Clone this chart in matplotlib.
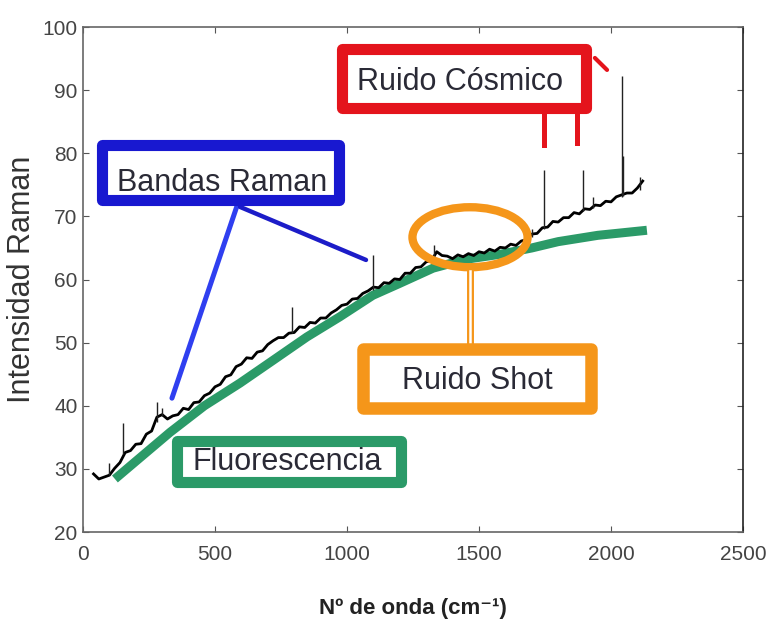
import matplotlib.pyplot as plt
import numpy as np
from matplotlib.patches import Rectangle, Ellipse

# spectrum (wavenumber, intensity)
wavenumber = [40, 60, 80, 100, 120, 140, 160, 180, 200, 220, 240, 260, 280, 300,
              320, 340, 360, 380, 400, 420, 440, 460, 480, 500, 520, 540, 560, 580,
              600, 620, 640, 660, 680, 700, 720, 740, 760, 780, 800, 820, 840, 860,
              880, 900, 920, 940, 960, 980, 1000, 1020, 1040, 1060, 1080, 1100, 1120,
              1140, 1160, 1180, 1200, 1220, 1240, 1260, 1280, 1300, 1320, 1340, 1360,
              1380, 1400, 1420, 1440, 1460, 1480, 1500, 1520, 1540, 1560, 1580, 1600,
              1620, 1640, 1660, 1680, 1700, 1720, 1740, 1760, 1780, 1800, 1820, 1840,
              1860, 1880, 1900, 1920, 1940, 1960, 1980, 2000, 2020, 2040, 2060, 2080,
              2100, 2120]
intensity = [29.2, 28.4, 28.7, 29.0, 30.1, 31.0, 32.6, 32.9, 33.9, 34.0, 35.5, 36.0,
             38.2, 38.6, 37.9, 38.4, 38.6, 39.6, 39.4, 40.5, 40.6, 41.6, 42.0, 43.0,
             43.4, 44.6, 44.9, 46.2, 46.6, 47.6, 47.5, 48.5, 48.7, 49.7, 50.3, 50.8,
             50.8, 51.5, 51.6, 52.5, 52.4, 53.2, 53.1, 53.9, 53.9, 54.7, 55.2, 55.9,
             56.1, 56.9, 57.0, 57.8, 58.2, 58.8, 58.7, 59.5, 59.4, 60.1, 60.0, 61.0,
             61.0, 61.9, 62.0, 62.8, 63.0, 64.4, 63.8, 63.7, 63.3, 63.9, 63.6, 64.1,
             63.8, 64.4, 64.2, 64.8, 64.5, 65.1, 65.0, 65.6, 65.4, 66.1, 66.3, 67.2,
             67.3, 68.2, 68.3, 69.2, 69.1, 69.8, 69.8, 70.6, 70.4, 71.2, 71.1, 71.8,
             71.7, 72.4, 72.3, 73.1, 73.4, 73.7, 73.7, 74.5, 75.6]

# narrow peaks / cosmic spikes (position, base, top)
spike_x = [97, 152, 280, 300, 792, 1100, 1330, 1700, 1748, 1895, 1932, 2040, 2046, 2110]
spike_base = [29.0, 32.3, 37.5, 38.3, 51.5, 58.4, 63.0, 66.8, 68.0, 70.8, 71.3, 73.0, 73.3, 74.2]
spike_top = [31.0, 37.3, 40.6, 39.6, 55.6, 63.9, 65.5, 68.0, 77.3, 77.3, 73.0, 92.3, 79.5, 76.3]

# fluorescence background
fluo_x = [121, 200, 330, 460, 595, 720, 848, 973, 1098, 1200, 1326, 1450, 1580, 1700,
          1800, 1950, 2136]
fluo_y = [28.4, 31.2, 35.8, 40.0, 43.6, 47.2, 50.9, 54.1, 57.5, 59.4, 61.8, 63.2, 64.0,
          65.0, 66.0, 67.0, 67.8]

blue = "#1818d0"
red = "#e4141c"
orange = "#f5961a"
green = "#2b9a68"
txt = "#2a2a36"

plt.rcParams['font.family'] = ['Liberation Sans', 'DejaVu Sans']

fig = plt.figure(figsize=(7.69, 6.21), dpi=100)
ax = fig.add_axes([0.1079, 0.1433, 0.8583, 0.8132])

ax.plot(fluo_x, fluo_y, color=green, lw=6.5, solid_capstyle='butt', zorder=2)
ax.plot(wavenumber, intensity, color="black", lw=2.0, zorder=3)
ax.vlines(spike_x, spike_base, spike_top, color="#222222", lw=1.0, zorder=3)

ax.set_xlim(0, 2500)
ax.set_ylim(20, 100)
ax.set_xticks([0, 500, 1000, 1500, 2000, 2500])
ax.set_yticks(range(20, 101, 10))
ax.tick_params(direction="in", length=4, top=True, right=True, labelsize=15,
               colors="#555555", labelcolor="#444444")
ax.tick_params(axis="x", pad=9)
ax.tick_params(axis="y", pad=4)
for s in ax.spines.values():
    s.set_color("#666666")
    s.set_linewidth(1.2)
ax.spines["right"].set_color("#222222")

ax.set_ylabel("Intensidad Raman", fontsize=22, color="#333333", labelpad=4)
ax.set_xlabel("Nº de onda (cm⁻¹)", fontsize=16, fontweight="bold", color="#222222",
              labelpad=25)


def box(x0, x1, y0, y1, color, lw=8):
    r = Rectangle((x0, y0), x1 - x0, y1 - y0, facecolor="white", edgecolor=color,
                  lw=lw, joinstyle="round", zorder=6, clip_on=False)
    ax.add_patch(r)


# Bandas Raman
ax.plot([587, 337], [72.1, 41.2], color="#2f3ff0", lw=3.6, zorder=5, solid_capstyle='round')
ax.plot([595, 1072], [71.5, 63.1], color="#1c1cc8", lw=3.2, zorder=5, solid_capstyle='round')
box(72, 970, 72.6, 81.3, blue)
ax.text(527, 75.3, "Bandas Raman", fontsize=22, color=txt, ha="center", va="center", zorder=7)

# Ruido Cósmico
ax.plot([1746, 1746], [86.4, 81.3], color=red, lw=3.6, zorder=5)
ax.plot([1871, 1871], [86.4, 81.6], color=red, lw=3.6, zorder=5)
ax.plot([1939, 1985], [95.1, 93.2], color=red, lw=3, zorder=5, solid_capstyle='round')
box(981, 1905, 87.2, 96.5, red)
ax.text(1428, 91.3, "Ruido Cósmico", fontsize=22, color=txt, ha="center", va="center", zorder=7)

# Ruido Shot
ax.add_patch(Ellipse((1466, 66.7), 436, 9.5, fill=False, edgecolor=orange, lw=6, zorder=5))
ax.plot([1466, 1466], [61.8, 49.9], color=orange, lw=5, zorder=5)
ax.plot([1466, 1466], [61.3, 49.9], color="white", lw=1.8, zorder=5)
box(1061, 1924, 39.6, 49.0, orange, lw=9)
ax.text(1492, 43.9, "Ruido Shot", fontsize=22, color=txt, ha="center", va="center", zorder=7)

# Fluorescencia
box(356, 1205, 27.9, 34.4, green)
ax.text(773, 31.1, "Fluorescencia", fontsize=22, color=txt, ha="center", va="center", zorder=7)

plt.savefig("out.png", dpi=100)
